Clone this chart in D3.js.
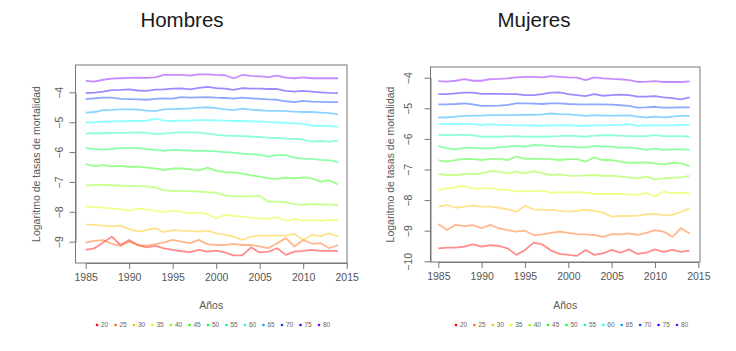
<!DOCTYPE html>
<html>
<head>
<meta charset="utf-8">
<script src="https://cdn.jsdelivr.net/npm/d3@7/dist/d3.min.js"></script>
<style>
  body { margin: 0; background: #fff; }
  svg { display: block; font-family: "Liberation Sans", Arial, sans-serif; }
</style>
</head>
<body>
<div id="chart"></div>
<script>
let svgWidth = 736;
let svgHeight = 351;

const years = [1985,1986,1987,1988,1989,1990,1991,1992,1993,1994,1995,1996,1997,1998,1999,
               2000,2001,2002,2003,2004,2005,2006,2007,2008,2009,2010,2011,2012,2013,2014];
const ages = ['20','25','30','35','40','45','50','55','60','65','70','75','80'];
const xTicks = [1985,1990,1995,2000,2005,2010,2015];
const yTicksH = [-4,-5,-6,-7,-8,-9];
const yTicksM = [-4,-5,-6,-7,-8,-9,-10];

// Hombres: log mortality rate by age group
const h20 = [-9.27,-9.22,-9.03,-8.83,-9.11,-8.94,-9.11,-9.19,-9.14,-9.22,-9.27,-9.32,-9.35,-9.27,-9.33,-9.30,-9.36,-9.46,-9.46,-9.19,-9.36,-9.33,-9.22,-9.44,-9.33,-9.31,-9.27,-9.31,-9.31,-9.31];
const h25 = [-9.03,-8.97,-8.95,-9.07,-9.14,-9.00,-9.12,-9.13,-9.08,-9.02,-8.94,-9.00,-9.05,-8.94,-9.08,-9.11,-9.11,-9.07,-9.11,-9.11,-9.16,-9.22,-9.05,-8.88,-9.16,-8.94,-9.07,-9.05,-9.22,-9.11];
const h30 = [-8.42,-8.44,-8.46,-8.49,-8.46,-8.58,-8.66,-8.61,-8.55,-8.68,-8.61,-8.63,-8.64,-8.66,-8.63,-8.72,-8.77,-8.83,-8.94,-8.83,-8.80,-8.80,-8.80,-8.80,-8.74,-8.94,-8.77,-8.81,-8.72,-8.83];
const h35 = [-7.82,-7.84,-7.86,-7.89,-7.92,-7.96,-7.89,-7.93,-7.96,-8.01,-7.96,-8.00,-8.05,-8.02,-8.08,-8.22,-8.10,-8.14,-8.16,-8.20,-8.22,-8.24,-8.18,-8.30,-8.24,-8.30,-8.27,-8.30,-8.27,-8.29];
const h40 = [-7.12,-7.10,-7.10,-7.11,-7.12,-7.14,-7.14,-7.15,-7.18,-7.28,-7.30,-7.30,-7.31,-7.32,-7.34,-7.36,-7.45,-7.48,-7.48,-7.48,-7.46,-7.66,-7.66,-7.68,-7.74,-7.77,-7.74,-7.75,-7.76,-7.78];
const h45 = [-6.40,-6.47,-6.44,-6.48,-6.46,-6.50,-6.49,-6.52,-6.55,-6.60,-6.55,-6.55,-6.58,-6.61,-6.52,-6.62,-6.67,-6.68,-6.72,-6.78,-6.82,-6.88,-6.90,-6.86,-6.88,-6.85,-6.88,-6.99,-6.95,-7.08];
const h50 = [-5.87,-5.90,-5.92,-5.89,-5.87,-5.87,-5.87,-5.90,-5.93,-5.96,-5.93,-5.94,-5.95,-5.96,-5.96,-5.98,-6.00,-6.02,-6.05,-6.07,-6.09,-6.15,-6.10,-6.10,-6.19,-6.22,-6.23,-6.26,-6.28,-6.33];
const h55 = [-5.38,-5.37,-5.37,-5.36,-5.36,-5.35,-5.34,-5.36,-5.40,-5.38,-5.36,-5.34,-5.34,-5.35,-5.38,-5.42,-5.45,-5.46,-5.47,-5.48,-5.50,-5.52,-5.53,-5.55,-5.56,-5.58,-5.65,-5.63,-5.65,-5.62];
const h60 = [-5.01,-5.00,-4.98,-4.97,-4.97,-4.96,-4.96,-4.95,-4.88,-4.95,-4.96,-4.95,-4.95,-4.93,-4.93,-4.94,-4.95,-4.96,-4.96,-4.97,-4.97,-5.00,-5.01,-5.02,-5.04,-5.06,-5.12,-5.12,-5.13,-5.15];
const h65 = [-4.68,-4.66,-4.60,-4.59,-4.57,-4.57,-4.58,-4.61,-4.63,-4.57,-4.56,-4.55,-4.54,-4.51,-4.50,-4.53,-4.57,-4.60,-4.55,-4.58,-4.60,-4.62,-4.62,-4.63,-4.65,-4.66,-4.66,-4.68,-4.70,-4.74];
const h70 = [-4.23,-4.20,-4.18,-4.18,-4.22,-4.23,-4.24,-4.25,-4.22,-4.20,-4.21,-4.16,-4.18,-4.17,-4.16,-4.18,-4.19,-4.21,-4.18,-4.20,-4.22,-4.24,-4.25,-4.30,-4.33,-4.29,-4.31,-4.32,-4.33,-4.33];
const h75 = [-4.03,-4.01,-3.98,-3.93,-3.92,-3.90,-3.94,-3.95,-3.91,-3.90,-3.88,-3.87,-3.90,-3.85,-3.82,-3.86,-3.88,-3.92,-3.86,-3.88,-3.88,-3.89,-3.89,-3.95,-3.98,-3.95,-3.98,-4.00,-4.02,-4.03];
const h80 = [-3.62,-3.64,-3.58,-3.54,-3.53,-3.52,-3.51,-3.52,-3.50,-3.42,-3.42,-3.42,-3.44,-3.40,-3.40,-3.42,-3.43,-3.53,-3.42,-3.45,-3.47,-3.49,-3.44,-3.51,-3.53,-3.50,-3.53,-3.53,-3.53,-3.53];

// Mujeres
const m20 = [-9.58,-9.55,-9.55,-9.52,-9.45,-9.52,-9.47,-9.50,-9.58,-9.79,-9.63,-9.39,-9.45,-9.65,-9.76,-9.79,-9.82,-9.63,-9.79,-9.74,-9.63,-9.72,-9.61,-9.76,-9.72,-9.61,-9.69,-9.63,-9.69,-9.65];
const m25 = [-8.78,-8.98,-8.81,-8.85,-8.82,-8.92,-8.81,-8.92,-8.98,-9.03,-9.00,-9.14,-9.12,-9.07,-9.03,-9.07,-9.11,-9.12,-9.14,-9.20,-9.11,-9.12,-9.09,-9.14,-9.07,-8.98,-9.03,-9.20,-8.92,-9.09];
const m30 = [-8.21,-8.16,-8.25,-8.21,-8.18,-8.21,-8.21,-8.25,-8.30,-8.38,-8.19,-8.30,-8.32,-8.32,-8.35,-8.38,-8.35,-8.32,-8.35,-8.41,-8.54,-8.52,-8.52,-8.51,-8.47,-8.45,-8.50,-8.48,-8.38,-8.27];
const m35 = [-7.67,-7.62,-7.58,-7.54,-7.62,-7.62,-7.62,-7.65,-7.67,-7.72,-7.70,-7.70,-7.69,-7.76,-7.75,-7.75,-7.74,-7.76,-7.80,-7.80,-7.80,-7.80,-7.81,-7.83,-7.76,-7.89,-7.72,-7.78,-7.76,-7.78];
const m40 = [-7.15,-7.18,-7.18,-7.15,-7.15,-7.13,-7.05,-7.07,-7.13,-7.07,-7.13,-7.05,-7.13,-7.18,-7.16,-7.20,-7.21,-7.19,-7.18,-7.21,-7.20,-7.23,-7.26,-7.29,-7.23,-7.32,-7.29,-7.27,-7.26,-7.21];
const m45 = [-6.69,-6.74,-6.69,-6.65,-6.66,-6.69,-6.65,-6.65,-6.69,-6.58,-6.65,-6.65,-6.65,-6.66,-6.69,-6.66,-6.66,-6.74,-6.61,-6.69,-6.69,-6.74,-6.78,-6.78,-6.77,-6.80,-6.83,-6.78,-6.80,-6.89];
const m50 = [-6.23,-6.31,-6.34,-6.29,-6.29,-6.31,-6.31,-6.28,-6.25,-6.23,-6.25,-6.20,-6.21,-6.23,-6.25,-6.25,-6.28,-6.28,-6.23,-6.25,-6.25,-6.29,-6.28,-6.31,-6.36,-6.32,-6.36,-6.34,-6.34,-6.36];
const m55 = [-5.87,-5.88,-5.87,-5.87,-5.88,-5.93,-5.93,-5.93,-5.92,-5.91,-5.93,-5.93,-5.93,-5.92,-5.91,-5.89,-5.91,-5.93,-5.89,-5.88,-5.88,-5.89,-5.91,-5.91,-5.91,-5.88,-5.91,-5.91,-5.91,-5.93];
const m60 = [-5.51,-5.52,-5.51,-5.51,-5.52,-5.55,-5.52,-5.54,-5.55,-5.56,-5.56,-5.56,-5.57,-5.56,-5.56,-5.55,-5.57,-5.57,-5.56,-5.56,-5.55,-5.54,-5.52,-5.57,-5.56,-5.56,-5.56,-5.56,-5.54,-5.55];
const m65 = [-5.30,-5.30,-5.27,-5.25,-5.24,-5.24,-5.22,-5.22,-5.22,-5.22,-5.21,-5.21,-5.20,-5.17,-5.19,-5.20,-5.22,-5.25,-5.22,-5.24,-5.24,-5.24,-5.23,-5.27,-5.30,-5.27,-5.30,-5.27,-5.25,-5.25];
const m70 = [-4.87,-4.87,-4.86,-4.84,-4.87,-4.92,-4.92,-4.91,-4.89,-4.84,-4.84,-4.85,-4.86,-4.84,-4.84,-4.86,-4.87,-4.87,-4.87,-4.87,-4.88,-4.90,-4.92,-4.98,-4.97,-4.95,-4.98,-4.98,-4.97,-4.97];
const m75 = [-4.54,-4.54,-4.51,-4.49,-4.49,-4.53,-4.53,-4.53,-4.54,-4.54,-4.57,-4.57,-4.54,-4.49,-4.48,-4.54,-4.57,-4.60,-4.54,-4.59,-4.57,-4.55,-4.57,-4.62,-4.62,-4.60,-4.64,-4.67,-4.71,-4.64];
const m80 = [-4.11,-4.13,-4.10,-4.05,-4.10,-4.10,-4.05,-4.04,-4.02,-3.99,-3.97,-3.97,-3.99,-3.95,-3.97,-3.99,-4.00,-4.08,-3.99,-4.02,-4.04,-4.05,-4.08,-4.14,-4.13,-4.11,-4.14,-4.14,-4.14,-4.12];

const hombres = [h20,h25,h30,h35,h40,h45,h50,h55,h60,h65,h70,h75,h80];
const mujeres = [m20,m25,m30,m35,m40,m45,m50,m55,m60,m65,m70,m75,m80];

// rainbow hues from red to violet, like R's rainbow(13, end = 0.75)
let hue = d3.scaleLinear().domain([0, ages.length - 1]).range([0, 270]);
let lineColor = i => d3.hsl(hue(i), 1, 0.5).formatRgb();

let svg = d3.select('#chart')
    .append('svg')
        .attr('width', svgWidth)
        .attr('height', svgHeight);

function drawPanel(p){
    let g = svg.append('g');

    let x = d3.scaleLinear().domain([1985, 2015]).range(p.xRange);
    let y = d3.scaleLinear().domain([p.yTicks[0], p.yTicks[p.yTicks.length - 1]]).range(p.yRange);

    let line = d3.line()
        .x((d, i) => x(years[i]))
        .y(d => y(d));

    g.selectAll('path.serie')
        .data(p.series)
        .join('path')
            .attr('class', 'serie')
            .attr('d', line)
            .attr('fill', 'none')
            .attr('stroke', (d, i) => lineColor(i))
            .attr('stroke-opacity', 0.45)
            .attr('stroke-width', 1.8)
            .attr('stroke-linejoin', 'round');

    // box
    g.append('rect')
        .attr('x', p.box[0]).attr('y', p.box[2])
        .attr('width', p.box[1] - p.box[0])
        .attr('height', p.box[3] - p.box[2])
        .attr('fill', 'none')
        .attr('stroke', '#777')
        .attr('stroke-width', 1);

    let xAxis = d3.axisBottom(x).tickValues(xTicks).tickFormat(d3.format('d'))
        .tickSize(6).tickSizeOuter(0).tickPadding(5);
    g.append('g')
        .attr('transform', `translate(0,${p.box[3]})`)
        .call(xAxis)
        .call(a => a.select('.domain').attr('stroke', '#777'))
        .call(a => a.selectAll('line').attr('stroke', '#777'))
        .call(a => a.selectAll('text')
            .attr('font-size', 10.5)
            .attr('fill', '#555')
            .attr('font-family', '"Liberation Sans", Arial, sans-serif'));

    let yAxis = d3.axisLeft(y).tickValues(p.yTicks).tickFormat(d3.format('d'))
        .tickSize(6).tickSizeOuter(0);
    g.append('g')
        .attr('transform', `translate(${p.box[0]},0)`)
        .call(yAxis)
        .call(a => a.select('.domain').attr('stroke', '#777'))
        .call(a => a.selectAll('line').attr('stroke', '#777'))
        .call(a => a.selectAll('text')
            .attr('x', 0).attr('dy', 0)
            .attr('text-anchor', 'middle')
            .attr('transform', `translate(${-p.yLabelOff},0) rotate(-90)`)
            .attr('font-size', 10.5)
            .attr('fill', '#555')
            .attr('font-family', '"Liberation Sans", Arial, sans-serif'));

    let midY = (p.box[2] + p.box[3]) / 2;
    g.append('text')
        .attr('transform', `translate(${p.yTitleX},${midY}) rotate(-90)`)
        .attr('text-anchor', 'middle')
        .attr('font-size', 10.5)
        .attr('fill', '#5a5a5a')
        .text('Logaritmo de tasas de mortalidad');

    g.append('text')
        .attr('x', (p.box[0] + p.box[1]) / 2)
        .attr('y', 309)
        .attr('text-anchor', 'middle')
        .attr('font-size', 10.5)
        .attr('fill', '#5a5a5a')
        .text('Años');

    g.append('text')
        .attr('x', p.titleX)
        .attr('y', 27)
        .attr('text-anchor', 'middle')
        .attr('font-size', 20.5)
        .attr('fill', '#1a1a1a')
        .text(p.title);

    // legend
    let lx = d3.scaleLinear().domain([0, ages.length - 1]).range(p.legendRange);
    let items = g.selectAll('g.leg')
        .data(ages)
        .join('g')
            .attr('class', 'leg')
            .attr('transform', (d, i) => `translate(${lx(i)},325)`);
    items.append('circle')
        .attr('r', 1.3)
        .attr('fill', (d, i) => lineColor(i));
    items.append('text')
        .attr('x', 4)
        .attr('dy', '0.35em')
        .attr('font-size', 6.5)
        .attr('fill', '#666')
        .text(d => d);
}

drawPanel({
    title: 'Hombres', titleX: 182,
    series: hombres, yTicks: yTicksH,
    xRange: [85.7, 346.7], yRange: [92.3, 241.7],
    box: [75.5, 347, 65, 263],
    yLabelOff: 13, yTitleX: 40,
    legendRange: [97, 319]
});

drawPanel({
    title: 'Mujeres', titleX: 534,
    series: mujeres, yTicks: yTicksM,
    xRange: [438.3, 698.3], yRange: [77.7, 261.3],
    box: [430.5, 700, 67, 262],
    yLabelOff: 19, yTitleX: 394,
    legendRange: [456, 677]
});
</script>
</body>
</html>
